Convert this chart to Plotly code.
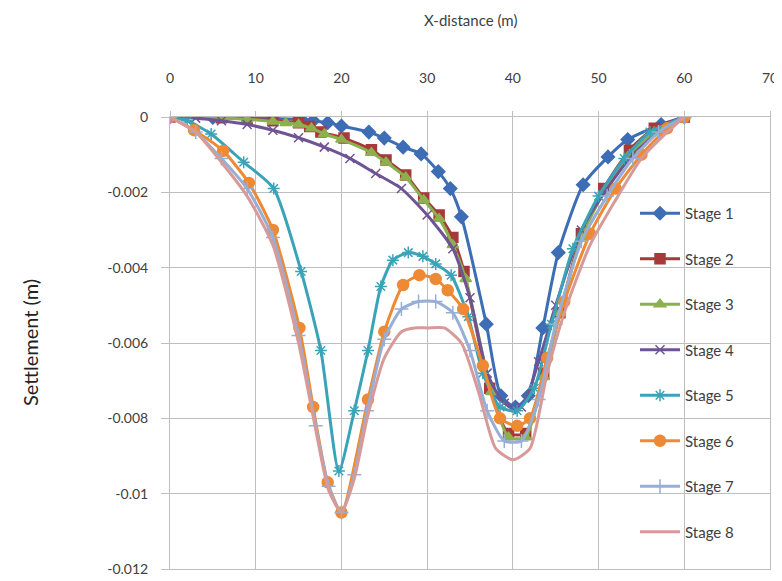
import plotly.graph_objects as go

stage_names = ["Stage 1", "Stage 2", "Stage 3", "Stage 4", "Stage 5", "Stage 6", "Stage 7", "Stage 8"]

x1 = [0, 5, 9, 12, 15.3, 16.7, 18.4, 20, 23.2, 25, 27.2, 29.3, 31.3, 32.7, 34, 36.9, 38.6, 40.3, 41.8, 43.5, 45.3, 48.2, 51.1, 53.4, 57.3, 60]
y1 = [0, -0.00001, -0.00002, -0.00004, -0.00006, -0.0001, -0.00015, -0.00024, -0.0004, -0.00056, -0.0008, -0.00098, -0.00145, -0.0019, -0.00265, -0.0055, -0.0074, -0.0077, -0.0074, -0.0056, -0.0036, -0.0018, -0.00106, -0.0006, -0.0002, 0]

x2 = [0, 6, 9, 12, 15, 16.3, 17.6, 20.3, 23.5, 25.2, 27.5, 29.6, 31.4, 33, 34.3, 37.3, 39.5, 41.5, 43.6, 45.5, 48, 50.6, 53.6, 56.5, 60]
y2 = [0, -0.00002, -0.00005, -0.0001, -0.00015, -0.00025, -0.0004, -0.00056, -0.00087, -0.00114, -0.00154, -0.00215, -0.0026, -0.0032, -0.0041, -0.0072, -0.0084, -0.0084, -0.0068, -0.0052, -0.0031, -0.0019, -0.00088, -0.0003, 0]

x3 = [0, 6, 9, 12, 13.5, 15, 16.5, 18, 20, 23.5, 25.2, 27.5, 29.6, 31.4, 33, 34.5, 37.5, 39.5, 41.5, 43.6, 45.5, 48, 50.6, 53.6, 56.5, 60]
y3 = [0, -0.00003, -0.00006, -0.00012, -0.00016, -0.0002, -0.0003, -0.00045, -0.0006, -0.00095, -0.0012, -0.0016, -0.0022, -0.0027, -0.0034, -0.0043, -0.0073, -0.0085, -0.0085, -0.0069, -0.0052, -0.0032, -0.002, -0.001, -0.0004, 0]

x4 = [0, 3, 6, 9, 12, 15, 18, 21, 24, 27, 30, 33, 35, 37, 39, 41, 43, 45, 48, 51, 54, 57, 60]
y4 = [0, -0.00003, -0.0001, -0.0002, -0.00035, -0.00055, -0.0008, -0.0011, -0.0015, -0.0019, -0.0026, -0.0035, -0.0048, -0.0068, -0.0076, -0.0077, -0.0065, -0.005, -0.003, -0.0019, -0.001, -0.0004, 0]

x5 = [0, 2, 4.8, 8.6, 12.1, 15.3, 17.6, 19.7, 21.5, 23.1, 24.6, 26, 27.8, 29.5, 31, 32.8, 34.8, 36.5, 38.5, 40.5, 42.5, 44.5, 47, 50, 53, 56, 60]
y5 = [0, -0.0001, -0.00045, -0.0012, -0.0019, -0.0041, -0.0062, -0.0094, -0.0078, -0.0062, -0.0045, -0.0038, -0.0036, -0.0037, -0.0039, -0.0042, -0.0053, -0.0068, -0.0077, -0.0078, -0.0072, -0.0055, -0.0035, -0.0021, -0.0011, -0.0004, 0]

x6 = [0, 2.8, 6.2, 9.2, 12, 15.1, 16.7, 18.4, 20, 23.1, 25, 27.2, 29.1, 31, 32.4, 34.2, 36.5, 38.5, 40.5, 42, 44, 46, 49, 52, 55, 58, 60]
y6 = [0, -0.00035, -0.0009, -0.00175, -0.003, -0.0056, -0.0077, -0.0097, -0.0105, -0.0075, -0.0057, -0.00446, -0.0042, -0.0043, -0.0046, -0.0051, -0.0066, -0.008, -0.0082, -0.008, -0.0064, -0.0049, -0.0031, -0.0019, -0.001, -0.0003, 0]

x7 = [0, 3, 6, 9, 12, 15, 17, 18.5, 20, 21.5, 23, 25, 27, 29, 31, 33, 35, 37, 39, 41, 43, 45, 48, 51, 54, 57, 60]
y7 = [0, -0.0004, -0.0011, -0.0019, -0.0032, -0.0058, -0.0082, -0.0098, -0.0105, -0.0095, -0.0078, -0.0059, -0.0051, -0.0049, -0.0049, -0.0052, -0.0062, -0.0078, -0.0086, -0.0086, -0.0075, -0.0055, -0.0033, -0.0021, -0.0011, -0.0004, 0]

x8 = [0, 3, 6, 9, 12, 15, 17, 18.5, 20, 21.5, 23, 25, 27, 28.5, 30, 32, 34, 36, 38, 40, 42, 44, 46, 49, 52, 55, 58, 60]
y8 = [0, -0.0004, -0.0012, -0.0021, -0.0034, -0.006, -0.0083, -0.0099, -0.0105, -0.0096, -0.008, -0.0064, -0.0057, -0.0056, -0.0056, -0.0056, -0.006, -0.0073, -0.0088, -0.0091, -0.0088, -0.0068, -0.0052, -0.0034, -0.0022, -0.0011, -0.0004, 0]

x_ticks = [0, 10, 20, 30, 40, 50, 60, 70]
y_ticks = [0, -0.002, -0.004, -0.006, -0.008, -0.01, -0.012]
y_tick_text = ["0", "-0.002", "-0.004", "-0.006", "-0.008", "-0.01", "-0.012"]

xs = [x1, x2, x3, x4, x5, x6, x7, x8]
ys = [y1, y2, y3, y4, y5, y6, y7, y8]
colors = ["#3D6DB5", "#A63A3A", "#8DB04E", "#6E5494", "#3AA3B8", "#EE8A33", "#97AED6", "#D79A98"]
symbols = ["diamond", "square", "triangle-up", "x-thin-open", "asterisk-open", "circle", "cross-thin-open", None]
sizes = [10, 10, 10, 9, 10, 11, 10, 0]

fig = go.Figure()
for i, name in enumerate(stage_names):
    marker = dict(color=colors[i], size=sizes[i], line=dict(color=colors[i], width=1.5))
    if symbols[i] is not None:
        marker["symbol"] = symbols[i]
        mode = "lines+markers"
    else:
        mode = "lines"
    fig.add_trace(go.Scatter(
        x=xs[i], y=ys[i], name=name, mode=mode,
        line=dict(color=colors[i], width=3, shape="spline", smoothing=0.6),
        marker=marker, legendgroup=name,
    ))

fig.update_layout(
    width=774, height=573,
    margin=dict(l=162, r=12, t=109, b=12),
    paper_bgcolor="white", plot_bgcolor="white",
    font=dict(family="Lato, Liberation Sans, sans-serif", color="#404040", size=14),
    showlegend=True,
    legend=dict(x=0.775, y=0.823, xanchor="left", yanchor="top",
                bgcolor="rgba(0,0,0,0)", font=dict(size=15, color="#404040"),
                tracegroupgap=23, itemwidth=40, traceorder="grouped"),
    xaxis=dict(side="top", range=[0, 70], tickvals=x_ticks, showgrid=True,
               gridcolor="#BEBEBE", gridwidth=1, showline=True, linecolor="#BEBEBE",
               mirror=True, ticks="outside", ticklen=5, tickcolor="#BEBEBE",
               ticklabelstandoff=22, zeroline=False, automargin=False),
    yaxis=dict(range=[-0.012, 0], tickvals=y_ticks, ticktext=y_tick_text, showgrid=True,
               gridcolor="#BEBEBE", gridwidth=1, showline=True, linecolor="#BEBEBE",
               mirror=True, ticks="outside", ticklen=8, tickcolor="#BEBEBE",
               ticklabelstandoff=10, zeroline=False, automargin=False),
    annotations=[
        dict(text="X-distance (m)", xref="paper", yref="paper", x=0.5, y=1,
             yshift=97, showarrow=False, font=dict(size=15, color="#404040"),
             xanchor="center", yanchor="middle"),
        dict(text="Settlement (m)", xref="paper", yref="paper", x=0, xshift=-140,
             y=0.5, showarrow=False, textangle=-90, font=dict(size=20, color="#222222"),
             xanchor="center", yanchor="middle"),
    ],
)

fig.write_html("out.html")
